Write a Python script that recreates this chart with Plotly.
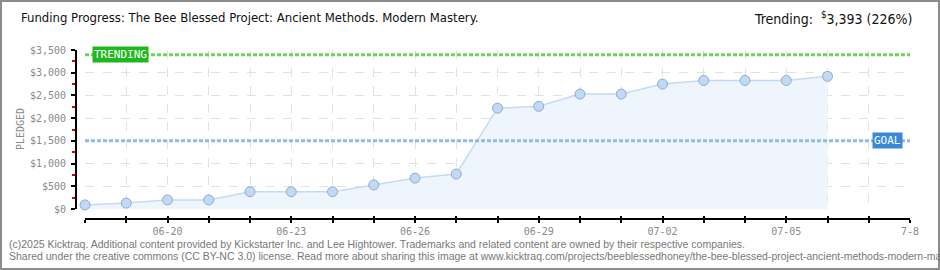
import plotly.graph_objects as go

# ---- data ----
dates = ["2025-06-18", "2025-06-19", "2025-06-20", "2025-06-21", "2025-06-22",
         "2025-06-23", "2025-06-24", "2025-06-25", "2025-06-26", "2025-06-27",
         "2025-06-28", "2025-06-29", "2025-06-30", "2025-07-01", "2025-07-02",
         "2025-07-03", "2025-07-04", "2025-07-05", "2025-07-06"]
pledged = [90, 130, 200, 200, 380, 380, 380, 530, 680, 770,
           2220, 2260, 2530, 2530, 2750, 2830, 2830, 2830, 2920]
goal = 1500
trending = 3393
x_start, x_end = "2025-06-18", "2025-07-08"
label_dates = ["2025-06-20", "2025-06-23", "2025-06-26", "2025-06-29",
               "2025-07-02", "2025-07-05", "2025-07-08"]
label_text = ["06-20", "06-23", "06-26", "06-29", "07-02", "07-05", "7-8"]
title = "Funding Progress: The Bee Blessed Project: Ancient Methods. Modern Mastery."
footer1 = ("(c)2025 Kicktraq. Additional content provided by Kickstarter Inc. and Lee Hightower. "
           "Trademarks and related content are owned by their respective companies.")
footer2 = ("Shared under the creative commons (CC BY-NC 3.0) license. Read more about sharing this image at "
           "www.kicktraq.com/projects/beeblessedhoney/the-bee-blessed-project-ancient-methods-modern-mastery/")

# ---- geometry (pixels) ----
W, H = 940, 270
ML, MR, MT, MB = 76, 30, 50, 51
PW, PH = W - ML - MR, H - MT - MB
DAY = 86400000


def px(x):
    return (x - ML) / PW


def py(y):
    return (H - MB - y) / PH


mono = "DejaVu Sans Mono"
cond = "DejaVu Sans Condensed, Liberation Sans Narrow, Liberation Sans"
gray = "#8a8a8a"
grid = "#e2e2e2"

fig = go.Figure()
fig.add_trace(go.Scatter(
    x=dates, y=pledged, mode="lines+markers",
    fill="tozeroy", fillcolor="#eef5fd",
    line=dict(color="#c3dbf4", width=1.5),
    marker=dict(size=10, color="#bfd9f6", line=dict(color="#93abc9", width=1)),
    cliponaxis=False, hoverinfo="skip", showlegend=False,
))
# invisible trace on overlay axis (inner tick half)
fig.add_trace(go.Scatter(x=[x_start], y=[0], xaxis="x2", mode="markers",
                         marker=dict(opacity=0), hoverinfo="skip", showlegend=False))

fig.update_layout(
    width=W, height=H,
    margin=dict(l=ML, r=MR, t=MT, b=MB, pad=0),
    paper_bgcolor="white", plot_bgcolor="white",
    showlegend=False,
    xaxis=dict(
        type="date", range=[x_start, x_end],
        domain=[9 / PW, 1], anchor="free", position=0,
        tickmode="array", tickvals=label_dates, ticktext=label_text,
        ticks="outside", ticklen=3, tickwidth=1.5, tickcolor="black",
        showline=True, linecolor="black", linewidth=2,
        showgrid=True, gridcolor=grid, griddash="dash", gridwidth=1,
        minor=dict(dtick=DAY, tick0=x_start, ticks="outside", ticklen=3,
                   tickwidth=1.5, tickcolor="black",
                   showgrid=True, gridcolor=grid, griddash="dash", gridwidth=1),
        zeroline=False,
        tickfont=dict(family=mono, size=10, color=gray),
    ),
    xaxis2=dict(
        type="date", range=[x_start, x_end],
        domain=[9 / PW, 1], anchor="free", position=0, overlaying="x",
        dtick=DAY, tick0=x_start,
        ticks="inside", ticklen=3, tickwidth=1.5, tickcolor="black",
        showticklabels=False, showgrid=False, showline=False, zeroline=False,
    ),
    yaxis=dict(
        range=[0, 3500], domain=[10 / PH, 1], anchor="free", position=0,
        dtick=500, tick0=0, tickprefix="$", tickformat=",d",
        ticks="outside", ticklen=4, tickwidth=1.5, tickcolor="black",
        showline=True, linecolor="black", linewidth=2,
        showgrid=True, gridcolor=grid, griddash="dash", gridwidth=1,
        zeroline=False,
        minor=dict(dtick=250, ticks="outside", ticklen=3, tickcolor="#dd0000",
                   tickwidth=1.5, showgrid=False),
        tickfont=dict(family=mono, size=10, color=gray),
        ticklabelstandoff=3,
    ),
    hovermode=False,
)

# goal and trending lines
fig.add_shape(type="line", xref="x domain", yref="y", x0=0, x1=1, y0=goal, y1=goal,
              line=dict(color="#8fbbe8", width=3, dash="4px,2px"))
fig.add_shape(type="line", xref="x domain", yref="y", x0=0, x1=1, y0=trending, y1=trending,
              line=dict(color="#6dd35a", width=3, dash="4px,2px"))

# labels
fig.add_annotation(xref="paper", yref="y", x=px(120.5), y=trending, xanchor="center",
                   yanchor="middle",
                   text="TRENDING", showarrow=False, bgcolor="#1fb81f",
                   font=dict(family=mono, size=11, color="white"), borderpad=1)
fig.add_annotation(xref="paper", yref="y", x=px(887.5), y=goal, xanchor="center",
                   yanchor="middle",
                   text="GOAL", showarrow=False, bgcolor="#3a89d9",
                   font=dict(family=mono, size=11, color="white"), borderpad=1)

# y axis title
fig.add_annotation(xref="paper", yref="paper", x=px(20), y=py(129), text="PLEDGED",
                   textangle=-90, showarrow=False, xanchor="center", yanchor="middle",
                   font=dict(family=mono, size=10, color=gray))

# title and trending header
fig.add_annotation(xref="paper", yref="paper", x=px(19), y=py(18), text=title,
                   showarrow=False, xanchor="left", yanchor="middle",
                   font=dict(family=cond, size=13, color="#111111"))
fig.add_annotation(xref="paper", yref="paper", x=px(914), y=py(18),
                   text="Trending:  <sup>$</sup>3,393 (226%)",
                   showarrow=False, xanchor="right", yanchor="middle",
                   font=dict(family=cond, size=14, color="#111111"))

# footer
fig.add_annotation(xref="paper", yref="paper", x=px(7), y=py(244), text=footer1,
                   showarrow=False, xanchor="left", yanchor="middle",
                   font=dict(family="Liberation Sans", size=10.5, color="#777777"))
fig.add_annotation(xref="paper", yref="paper", x=px(7), y=py(256), text=footer2,
                   showarrow=False, xanchor="left", yanchor="middle",
                   font=dict(family="Liberation Sans", size=10.5, color="#777777"))

# frame border
fig.add_shape(type="rect", xref="paper", yref="paper",
              x0=px(1), x1=px(939), y0=py(269), y1=py(1),
              line=dict(color="#8c8c8c", width=2), fillcolor="rgba(0,0,0,0)", layer="below")

fig.write_html("out.html")
